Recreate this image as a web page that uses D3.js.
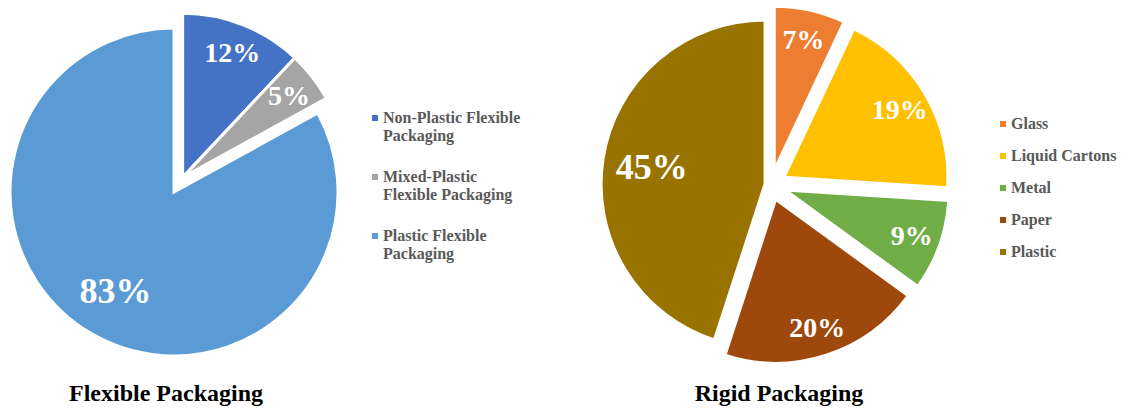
<!DOCTYPE html>
<html>
<head>
<meta charset="utf-8">
<script src="https://cdn.jsdelivr.net/npm/d3@7"></script>
<style>
    body { margin: 0; background: #fff; }
    text { font-family: "Liberation Serif", "Times New Roman", serif; font-weight: bold; }
</style>
</head>
<body>
<div id="chart"></div>
<script>
// data
const flexCategories = ["Non-Plastic Flexible Packaging", "Mixed-Plastic Flexible Packaging", "Plastic Flexible Packaging"];
const flexLegendLines = [["Non-Plastic Flexible", "Packaging"], ["Mixed-Plastic", "Flexible Packaging"], ["Plastic Flexible", "Packaging"]];
const flexValues = [12, 5, 83];
const flexColors = ["#4472C4", "#A5A5A5", "#5B9BD5"];

const rigidCategories = ["Glass", "Liquid Cartons", "Metal", "Paper", "Plastic"];
const rigidValues = [7, 19, 9, 20, 45];
const rigidColors = ["#ED7D31", "#FFC000", "#70AD47", "#9E480E", "#997300"];

const width = 1123, height = 409;
const radius = 164;

const svg = d3.select("#chart").append("svg")
    .attr("width", width)
    .attr("height", height);

const pie = d3.pie().sort(null).value(d => d.value);
const arc = d3.arc().innerRadius(0).outerRadius(radius);

function drawPie(opts) {
    let data = opts.categories.map((c, i) => ({ name: c, value: opts.values[i] }));
    let arcs = pie(data);

    let color = d3.scaleOrdinal().domain(opts.categories).range(opts.colors);

    // offset for each exploded slice
    let offset = opts.offset(arcs);

    let g = svg.append("g")
        .attr("transform", `translate(${opts.cx},${opts.cy})`);

    let slices = g.selectAll(".slice")
        .data(arcs)
        .enter()
        .append("g")
        .attr("class", "slice")
        .attr("transform", (d, i) => `translate(${offset[i][0]},${offset[i][1]})`);

    slices.append("path")
        .attr("d", arc)
        .attr("fill", d => color(d.data.name))
        .attr("stroke", "#fff")
        .attr("stroke-width", 3);

    slices.append("text")
        .attr("transform", d => {
            let a = (d.startAngle + d.endAngle) / 2;
            let lr = d.data.value > 40 ? radius * 0.7 : radius * 0.82;
            return `translate(${Math.sin(a) * lr},${-Math.cos(a) * lr})`;
        })
        .attr("text-anchor", "middle")
        .attr("dy", "0.35em")
        .attr("fill", "#fff")
        .style("font-size", d => d.data.value > 40 ? "36px" : "28px")
        .text(d => d.data.value + "%");

    // title under the pie
    svg.append("text")
        .attr("x", opts.titleX)
        .attr("y", 401)
        .attr("text-anchor", "middle")
        .attr("fill", "#000")
        .style("font-size", "24px")
        .text(opts.title);

    // legend
    let legend = svg.append("g")
        .attr("transform", `translate(${opts.legendX},${opts.legendY})`);

    let items = legend.selectAll(".item")
        .data(opts.legendLines)
        .enter()
        .append("g")
        .attr("class", "item")
        .attr("transform", (d, i) => `translate(0,${i * opts.legendStep})`);

    items.append("rect")
        .attr("x", 0)
        .attr("y", -8)
        .attr("width", 6)
        .attr("height", 6)
        .attr("fill", (d, i) => opts.colors[i]);

    items.append("text")
        .attr("x", 11)
        .attr("fill", "#595959")
        .style("font-size", "16px")
        .selectAll("tspan")
        .data(d => d)
        .enter()
        .append("tspan")
        .attr("x", 11)
        .attr("dy", (d, i) => i === 0 ? 0 : 17.5)
        .text(d => d);
}

// flexible: the two small slices are pulled out together
drawPie({
    categories: flexCategories,
    values: flexValues,
    colors: flexColors,
    cx: 174, cy: 192,
    offset: arcs => {
        let out = arcs.filter(d => d.data.value < 40);
        let a = (d3.min(out, d => d.startAngle) + d3.max(out, d => d.endAngle)) / 2;
        return arcs.map(d => d.data.value < 40 ? [Math.sin(a) * 17, -Math.cos(a) * 17] : [0, 0]);
    },
    title: "Flexible Packaging",
    titleX: 166,
    legendLines: flexLegendLines,
    legendX: 372, legendY: 123, legendStep: 59
});

// rigid: every slice pulled out along its own angle
drawPie({
    categories: rigidCategories,
    values: rigidValues,
    colors: rigidColors,
    cx: 771, cy: 185,
    offset: arcs => arcs.map(d => {
        let a = (d.startAngle + d.endAngle) / 2;
        let e = d.data.name === "Plastic" ? 6 : 15;
        return [Math.sin(a) * e, -Math.cos(a) * e];
    }),
    title: "Rigid Packaging",
    titleX: 779,
    legendLines: rigidCategories.map(c => [c]),
    legendX: 1000, legendY: 129, legendStep: 32
});
</script>
</body>
</html>
